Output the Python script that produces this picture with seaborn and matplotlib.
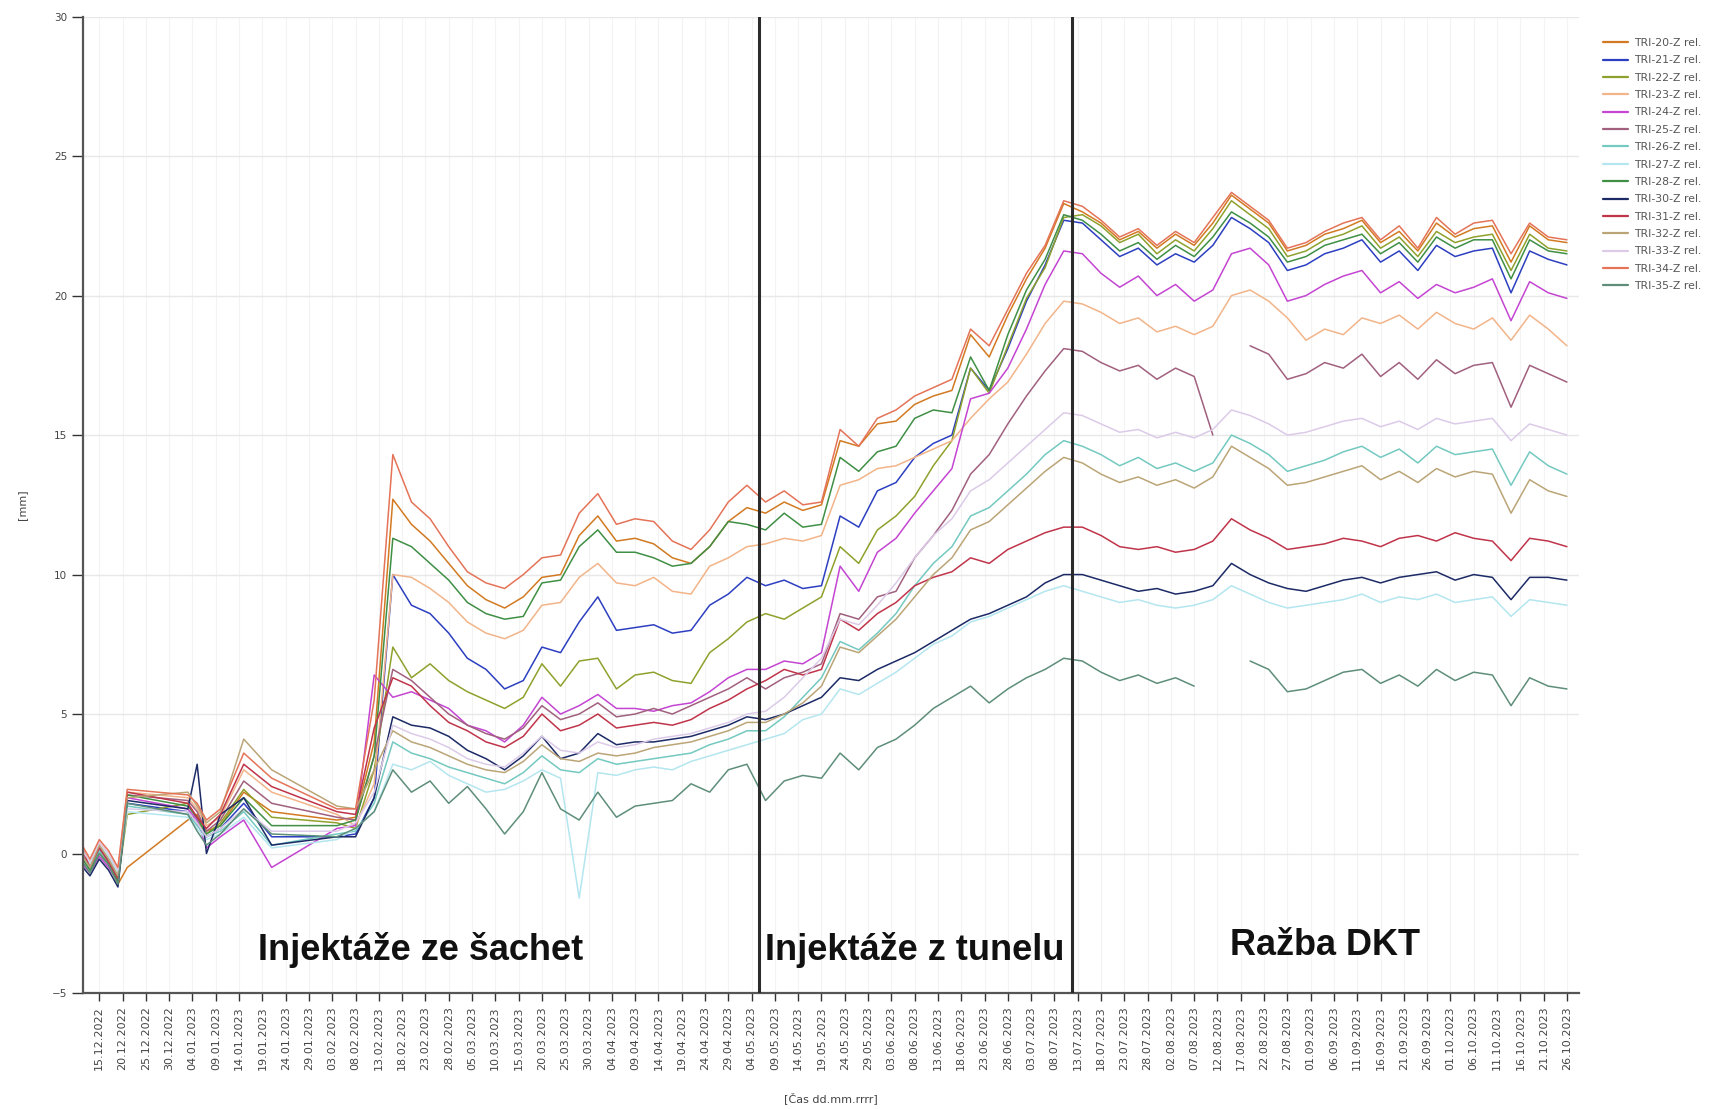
import numpy as np
import pandas as pd
import matplotlib
matplotlib.use("Agg")
import matplotlib.pyplot as plt
import matplotlib.dates as mdates
import seaborn as sns

nan = np.nan

# measurement dates: sparse readings in Dec/Jan, then every 4 days
early_dates = ["2022-12-11", "2022-12-13", "2022-12-15", "2022-12-17", "2022-12-19",
               "2022-12-21", "2023-01-03", "2023-01-05", "2023-01-07", "2023-01-10",
               "2023-01-15", "2023-01-21", "2023-02-04"]
dates = pd.to_datetime(early_dates).append(pd.date_range("2023-02-08", "2023-10-26", freq="4D"))

# relative settlement per sensor [mm]
tri_20 = [0.2, -0.6, 0.3, -0.4, -1.1, -0.5, 1.2, 1.4, 0.8, 1.0, 2.2, 1.5, 1.2,
          1.3, 4.0, 12.7, 11.8, 11.2, 10.4, 9.6, 9.1, 8.8, 9.2, 9.9, 10.0, 11.4, 12.1, 11.2, 11.3, 11.1, 10.6, 10.4, 11.0, 11.9, 12.4,
          12.2, 12.6, 12.3, 12.5, 14.8, 14.6, 15.4, 15.5, 16.1, 16.4, 16.6, 18.6, 17.8, 19.3, 20.6, 21.7, 23.3,
          23.0, 22.6, 22.0, 22.3, 21.7, 22.2, 21.8, 22.6, 23.6, 23.1, 22.6, 21.6, 21.8, 22.2, 22.4, 22.7, 21.9, 22.3, 21.6, 22.6, 22.1, 22.4, 22.5, 21.2, 22.5, 22.0, 21.9]
tri_21 = [0.0, -0.5, 0.1, -0.2, -0.9, 1.8, 1.5, 1.1, 0.6, 0.9, 1.8, 0.6, 0.6,
          0.7, 2.0, 10.0, 8.9, 8.6, 7.9, 7.0, 6.6, 5.9, 6.2, 7.4, 7.2, 8.3, 9.2, 8.0, 8.1, 8.2, 7.9, 8.0, 8.9, 9.3, 9.9,
          9.6, 9.8, 9.5, 9.6, 12.1, 11.7, 13.0, 13.3, 14.2, 14.7, 15.0, 17.4, 16.6, 18.1, 19.8, 21.1, 22.7,
          22.6, 22.0, 21.4, 21.7, 21.1, 21.5, 21.2, 21.8, 22.8, 22.4, 21.9, 20.9, 21.1, 21.5, 21.7, 22.0, 21.2, 21.6, 20.9, 21.8, 21.4, 21.6, 21.7, 20.1, 21.6, 21.3, 21.1]
tri_22 = [-0.2, -0.4, 0.0, -0.3, -1.0, 1.4, 1.8, 1.2, 0.7, 1.1, 2.3, 1.3, 1.1,
          0.9, 3.0, 7.4, 6.3, 6.8, 6.2, 5.8, 5.5, 5.2, 5.6, 6.8, 6.0, 6.9, 7.0, 5.9, 6.4, 6.5, 6.2, 6.1, 7.2, 7.7, 8.3,
          8.6, 8.4, 8.8, 9.2, 11.0, 10.4, 11.6, 12.1, 12.8, 13.9, 14.8, 17.4, 16.5, 18.2, 19.9, 21.0, 22.8,
          22.9, 22.5, 21.9, 22.2, 21.5, 22.0, 21.6, 22.4, 23.4, 22.9, 22.4, 21.4, 21.6, 22.0, 22.2, 22.5, 21.7, 22.1, 21.4, 22.3, 21.9, 22.1, 22.2, 20.9, 22.2, 21.7, 21.6]
tri_23 = [0.3, -0.3, 0.4, 0.0, -0.6, 2.2, 2.0, 1.6, 1.0, 1.3, 3.0, 2.2, 1.4,
          1.0, 2.5, 10.0, 9.9, 9.5, 9.0, 8.3, 7.9, 7.7, 8.0, 8.9, 9.0, 9.9, 10.4, 9.7, 9.6, 9.9, 9.4, 9.3, 10.3, 10.6, 11.0,
          11.1, 11.3, 11.2, 11.4, 13.2, 13.4, 13.8, 13.9, 14.2, 14.5, 14.8, 15.6, 16.3, 16.9, 17.9, 19.0, 19.8,
          19.7, 19.4, 19.0, 19.2, 18.7, 18.9, 18.6, 18.9, 20.0, 20.2, 19.8, 19.2, 18.4, 18.8, 18.6, 19.2, 19.0, 19.3, 18.8, 19.4, 19.0, 18.8, 19.2, 18.4, 19.3, 18.8, 18.2]
tri_24 = [-0.3, -0.7, -0.1, -0.5, -1.0, 2.0, 1.6, 1.2, 0.2, 0.6, 1.2, -0.5, 0.9,
          1.0, 6.4, 5.6, 5.8, 5.5, 5.2, 4.6, 4.4, 4.0, 4.6, 5.6, 5.0, 5.3, 5.7, 5.2, 5.2, 5.1, 5.3, 5.4, 5.8, 6.3, 6.6,
          6.6, 6.9, 6.8, 7.2, 10.3, 9.4, 10.8, 11.3, 12.2, 13.0, 13.8, 16.3, 16.5, 17.4, 18.8, 20.4, 21.6,
          21.5, 20.8, 20.3, 20.7, 20.0, 20.4, 19.8, 20.2, 21.5, 21.7, 21.1, 19.8, 20.0, 20.4, 20.7, 20.9, 20.1, 20.5, 19.9, 20.4, 20.1, 20.3, 20.6, 19.1, 20.5, 20.1, 19.9]
tri_25 = [0.1, -0.5, 0.2, -0.2, -0.8, 2.1, 1.9, 1.5, 0.8, 1.2, 2.6, 1.8, 1.3,
          1.2, 3.5, 6.6, 6.2, 5.6, 5.0, 4.6, 4.3, 4.1, 4.5, 5.3, 4.8, 5.0, 5.4, 4.9, 5.0, 5.2, 5.0, 5.3, 5.6, 5.9, 6.3,
          5.9, 6.3, 6.5, 6.8, 8.6, 8.4, 9.2, 9.4, 10.6, 11.4, 12.3, 13.6, 14.3, 15.4, 16.4, 17.3, 18.1,
          18.0, 17.6, 17.3, 17.5, 17.0, 17.4, 17.1, 15.0, nan, 18.2, 17.9, 17.0, 17.2, 17.6, 17.4, 17.9, 17.1, 17.6, 17.0, 17.7, 17.2, 17.5, 17.6, 16.0, 17.5, 17.2, 16.9]
tri_26 = [0.0, -0.6, 0.1, -0.3, -0.9, 1.7, 1.4, 1.0, 0.6, 0.8, 1.5, 0.3, 0.7,
          0.8, 1.8, 4.0, 3.6, 3.4, 3.1, 2.9, 2.7, 2.5, 2.9, 3.5, 3.0, 2.9, 3.4, 3.2, 3.3, 3.4, 3.5, 3.6, 3.9, 4.1, 4.4,
          4.4, 4.9, 5.6, 6.3, 7.6, 7.3, 7.9, 8.6, 9.6, 10.4, 11.0, 12.1, 12.4, 13.0, 13.6, 14.3, 14.8,
          14.6, 14.3, 13.9, 14.2, 13.8, 14.0, 13.7, 14.0, 15.0, 14.7, 14.3, 13.7, 13.9, 14.1, 14.4, 14.6, 14.2, 14.5, 14.0, 14.6, 14.3, 14.4, 14.5, 13.2, 14.4, 13.9, 13.6]
tri_27 = [0.2, -0.4, 0.3, -0.1, -0.7, 1.5, 1.3, 0.9, 0.5, 0.7, 1.3, 0.2, 0.5,
          0.9, 1.5, 3.2, 3.0, 3.3, 2.8, 2.5, 2.2, 2.3, 2.6, 3.0, 2.7, -1.6, 2.9, 2.8, 3.0, 3.1, 3.0, 3.3, 3.5, 3.7, 3.9,
          4.1, 4.3, 4.8, 5.0, 5.9, 5.7, 6.1, 6.5, 7.0, 7.5, 7.8, 8.3, 8.5, 8.8, 9.1, 9.4, 9.6,
          9.4, 9.2, 9.0, 9.1, 8.9, 8.8, 8.9, 9.1, 9.6, 9.3, 9.0, 8.8, 8.9, 9.0, 9.1, 9.3, 9.0, 9.2, 9.1, 9.3, 9.0, 9.1, 9.2, 8.5, 9.1, 9.0, 8.9]
tri_28 = [-0.1, -0.6, 0.0, -0.4, -1.0, 2.1, 1.7, 1.3, 0.7, 1.0, 2.0, 1.0, 1.0,
          1.2, 3.5, 11.3, 11.0, 10.4, 9.8, 9.0, 8.6, 8.4, 8.5, 9.7, 9.8, 11.0, 11.6, 10.8, 10.8, 10.6, 10.3, 10.4, 11.0, 11.9, 11.8,
          11.6, 12.2, 11.7, 11.8, 14.2, 13.7, 14.4, 14.6, 15.6, 15.9, 15.8, 17.8, 16.6, 18.6, 20.2, 21.3, 22.9,
          22.7, 22.2, 21.6, 21.9, 21.3, 21.8, 21.4, 22.1, 23.0, 22.6, 22.1, 21.2, 21.4, 21.8, 22.0, 22.2, 21.5, 21.9, 21.2, 22.1, 21.7, 22.0, 22.0, 20.6, 22.0, 21.6, 21.5]
tri_30 = [-0.4, -0.8, -0.2, -0.6, -1.2, 1.9, 1.6, 3.2, 0.0, 1.4, 2.0, 0.3, 0.6,
          0.6, 2.0, 4.9, 4.6, 4.5, 4.2, 3.7, 3.4, 3.0, 3.5, 4.2, 3.4, 3.6, 4.3, 3.9, 4.0, 4.0, 4.1, 4.2, 4.4, 4.6, 4.9,
          4.8, 5.0, 5.3, 5.6, 6.3, 6.2, 6.6, 6.9, 7.2, 7.6, 8.0, 8.4, 8.6, 8.9, 9.2, 9.7, 10.0,
          10.0, 9.8, 9.6, 9.4, 9.5, 9.3, 9.4, 9.6, 10.4, 10.0, 9.7, 9.5, 9.4, 9.6, 9.8, 9.9, 9.7, 9.9, 10.0, 10.1, 9.8, 10.0, 9.9, 9.1, 9.9, 9.9, 9.8]
tri_31 = [0.3, -0.5, 0.2, -0.3, -0.9, 2.2, 1.8, 1.3, 0.9, 1.4, 3.2, 2.4, 1.5,
          1.4, 4.5, 6.3, 6.0, 5.3, 4.7, 4.4, 4.0, 3.8, 4.2, 5.0, 4.4, 4.6, 5.0, 4.5, 4.6, 4.7, 4.6, 4.8, 5.2, 5.5, 5.9,
          6.2, 6.6, 6.4, 6.6, 8.4, 8.0, 8.6, 9.0, 9.6, 9.9, 10.1, 10.6, 10.4, 10.9, 11.2, 11.5, 11.7,
          11.7, 11.4, 11.0, 10.9, 11.0, 10.8, 10.9, 11.2, 12.0, 11.6, 11.3, 10.9, 11.0, 11.1, 11.3, 11.2, 11.0, 11.3, 11.4, 11.2, 11.5, 11.3, 11.2, 10.5, 11.3, 11.2, 11.0]
tri_32 = [0.0, -0.5, 0.3, -0.2, -0.8, 2.0, 2.2, 1.7, 1.1, 1.5, 4.1, 3.0, 1.7,
          1.6, 3.0, 4.4, 4.0, 3.8, 3.5, 3.2, 3.0, 2.9, 3.3, 3.9, 3.4, 3.3, 3.6, 3.5, 3.6, 3.8, 3.9, 4.0, 4.2, 4.4, 4.7,
          4.7, 5.0, 5.4, 6.0, 7.4, 7.2, 7.8, 8.4, 9.2, 10.0, 10.6, 11.6, 11.9, 12.5, 13.1, 13.7, 14.2,
          14.0, 13.6, 13.3, 13.5, 13.2, 13.4, 13.1, 13.5, 14.6, 14.2, 13.8, 13.2, 13.3, 13.5, 13.7, 13.9, 13.4, 13.7, 13.3, 13.8, 13.5, 13.7, 13.6, 12.2, 13.4, 13.0, 12.8]
tri_33 = [0.2, -0.3, 0.4, 0.0, -0.6, 1.6, 1.5, 1.1, 0.6, 0.9, 1.6, 0.8, 0.8,
          1.1, 2.2, 4.6, 4.3, 4.1, 3.8, 3.4, 3.2, 3.1, 3.6, 4.2, 3.7, 3.6, 4.0, 3.8, 3.9, 4.1, 4.2, 4.3, 4.5, 4.7, 5.0,
          5.1, 5.6, 6.3, 7.0, 8.4, 8.2, 8.9, 9.7, 10.6, 11.4, 12.0, 13.0, 13.4, 14.0, 14.6, 15.2, 15.8,
          15.7, 15.4, 15.1, 15.2, 14.9, 15.1, 14.9, 15.2, 15.9, 15.7, 15.4, 15.0, 15.1, 15.3, 15.5, 15.6, 15.3, 15.5, 15.2, 15.6, 15.4, 15.5, 15.6, 14.8, 15.4, 15.2, 15.0]
tri_34 = [0.4, -0.2, 0.5, 0.1, -0.5, 2.3, 2.1, 1.8, 1.2, 1.6, 3.6, 2.7, 1.6,
          1.6, 5.5, 14.3, 12.6, 12.0, 11.0, 10.1, 9.7, 9.5, 10.0, 10.6, 10.7, 12.2, 12.9, 11.8, 12.0, 11.9, 11.2, 10.9, 11.6, 12.6, 13.2,
          12.6, 13.0, 12.5, 12.6, 15.2, 14.6, 15.6, 15.9, 16.4, 16.7, 17.0, 18.8, 18.2, 19.5, 20.8, 21.8, 23.4,
          23.2, 22.7, 22.1, 22.4, 21.8, 22.3, 21.9, 22.8, 23.7, 23.2, 22.7, 21.7, 21.9, 22.3, 22.6, 22.8, 22.0, 22.5, 21.7, 22.8, 22.2, 22.6, 22.7, 21.5, 22.6, 22.1, 22.0]
tri_35 = [-0.2, -0.7, 0.0, -0.4, -1.1, 1.8, 1.4, 0.8, 0.3, 0.7, 1.6, 0.7, 0.6,
          0.9, 1.5, 3.0, 2.2, 2.6, 1.8, 2.4, 1.6, 0.7, 1.5, 2.9, 1.6, 1.2, 2.2, 1.3, 1.7, 1.8, 1.9, 2.5, 2.2, 3.0, 3.2,
          1.9, 2.6, 2.8, 2.7, 3.6, 3.0, 3.8, 4.1, 4.6, 5.2, 5.6, 6.0, 5.4, 5.9, 6.3, 6.6, 7.0,
          6.9, 6.5, 6.2, 6.4, 6.1, 6.3, 6.0, nan, nan, 6.9, 6.6, 5.8, 5.9, 6.2, 6.5, 6.6, 6.1, 6.4, 6.0, 6.6, 6.2, 6.5, 6.4, 5.3, 6.3, 6.0, 5.9]

series = {
    "TRI-20-Z rel.": tri_20, "TRI-21-Z rel.": tri_21, "TRI-22-Z rel.": tri_22,
    "TRI-23-Z rel.": tri_23, "TRI-24-Z rel.": tri_24, "TRI-25-Z rel.": tri_25,
    "TRI-26-Z rel.": tri_26, "TRI-27-Z rel.": tri_27, "TRI-28-Z rel.": tri_28,
    "TRI-30-Z rel.": tri_30, "TRI-31-Z rel.": tri_31, "TRI-32-Z rel.": tri_32,
    "TRI-33-Z rel.": tri_33, "TRI-34-Z rel.": tri_34, "TRI-35-Z rel.": tri_35,
}
colors = {
    "TRI-20-Z rel.": "#d27a22", "TRI-21-Z rel.": "#2c3fc0", "TRI-22-Z rel.": "#8fa12c",
    "TRI-23-Z rel.": "#f2b489", "TRI-24-Z rel.": "#c445d2", "TRI-25-Z rel.": "#a0607e",
    "TRI-26-Z rel.": "#74c9c0", "TRI-27-Z rel.": "#b4e6ef", "TRI-28-Z rel.": "#3f8f45",
    "TRI-30-Z rel.": "#1c2a66", "TRI-31-Z rel.": "#c0344a", "TRI-32-Z rel.": "#bba577",
    "TRI-33-Z rel.": "#dccbe8", "TRI-34-Z rel.": "#e47358", "TRI-35-Z rel.": "#5e8e7a",
}

phase_bounds = ["2023-05-05 12:00", "2023-07-11 18:00"]
phase_labels = ["Injektáže ze šachet", "Injektáže z tunelu", "Ražba DKT"]
phase_label_x = ["2023-02-22", "2023-06-08", "2023-09-04"]
phase_label_y = [-3.45, -3.45, -3.3]

# long table; gaps in a record split the line into separate segments
rows = []
for name, vals in series.items():
    assert len(vals) == len(dates), name
    seg, gap = 0, False
    for d, v in zip(dates, vals):
        if np.isnan(v):
            gap = True
            continue
        if gap:
            seg += 1
            gap = False
        rows.append((name, f"{name}/{seg}", d, v))
df = pd.DataFrame(rows, columns=["sensor", "segment", "date", "value"])

sns.set_theme(style="white")
plt.rcParams["font.family"] = ["DejaVu Sans"]

fig = plt.figure(figsize=(17.29, 11.09), dpi=100)
ax = fig.add_axes([0.048, 0.1046, 0.865, 0.8804])

sns.lineplot(data=df, x="date", y="value", hue="sensor", units="segment",
             estimator=None, palette=colors, hue_order=list(series),
             linewidth=1.1, ax=ax)

for b in phase_bounds:
    ax.axvline(pd.Timestamp(b), color="#2b2b2b", lw=2.2, zorder=5)

for txt, x, y in zip(phase_labels, phase_label_x, phase_label_y):
    ax.text(pd.Timestamp(x), y, txt, ha="center", va="center", fontsize=26,
            fontweight="bold", family=["Liberation Sans", "DejaVu Sans"], color="#111111")

ax.set_ylim(-5, 30)
ax.set_yticks(range(-5, 31, 5))
ax.set_xlim(pd.Timestamp("2022-12-11 12:00"), pd.Timestamp("2023-10-28 12:00"))
ticks = pd.date_range("2022-12-15", "2023-10-26", freq="5D")
ax.set_xticks(ticks)
ax.xaxis.set_major_formatter(mdates.DateFormatter("%d.%m.%Y"))
plt.setp(ax.get_xticklabels(), rotation=90, fontsize=8, color="#444444")
plt.setp(ax.get_yticklabels(), fontsize=7.5, color="#444444")
ax.tick_params(axis="x", length=6, width=1, color="#333333", direction="out", bottom=True)
ax.tick_params(axis="y", length=8, width=1, color="#333333", direction="out", left=True)

ax.grid(axis="y", color="#e8e8e8", lw=1)
ax.grid(axis="x", color="#f3f3f3", lw=0.8)
for side in ["top", "right"]:
    ax.spines[side].set_visible(False)
for side in ["left", "bottom"]:
    ax.spines[side].set_color("#555555")
    ax.spines[side].set_linewidth(1.6)

ax.set_ylabel("[mm]", fontsize=8, color="#444444", labelpad=18)
ax.set_xlabel("[Čas dd.mm.rrrr]", fontsize=8, color="#444444", labelpad=16)

handles, labels = ax.get_legend_handles_labels()
ax.get_legend().remove()
for h in handles:
    h.set_linewidth(1.6)
fig.legend(handles, labels, loc="upper left", bbox_to_anchor=(1603 / 1729, 1 - 38 / 1109),
           frameon=False, fontsize=7.8, labelspacing=0.68, handlelength=2.3,
           handletextpad=0.6, borderaxespad=0, borderpad=0, labelcolor="#555555")

fig.savefig("out.png", dpi=100, facecolor="white")
